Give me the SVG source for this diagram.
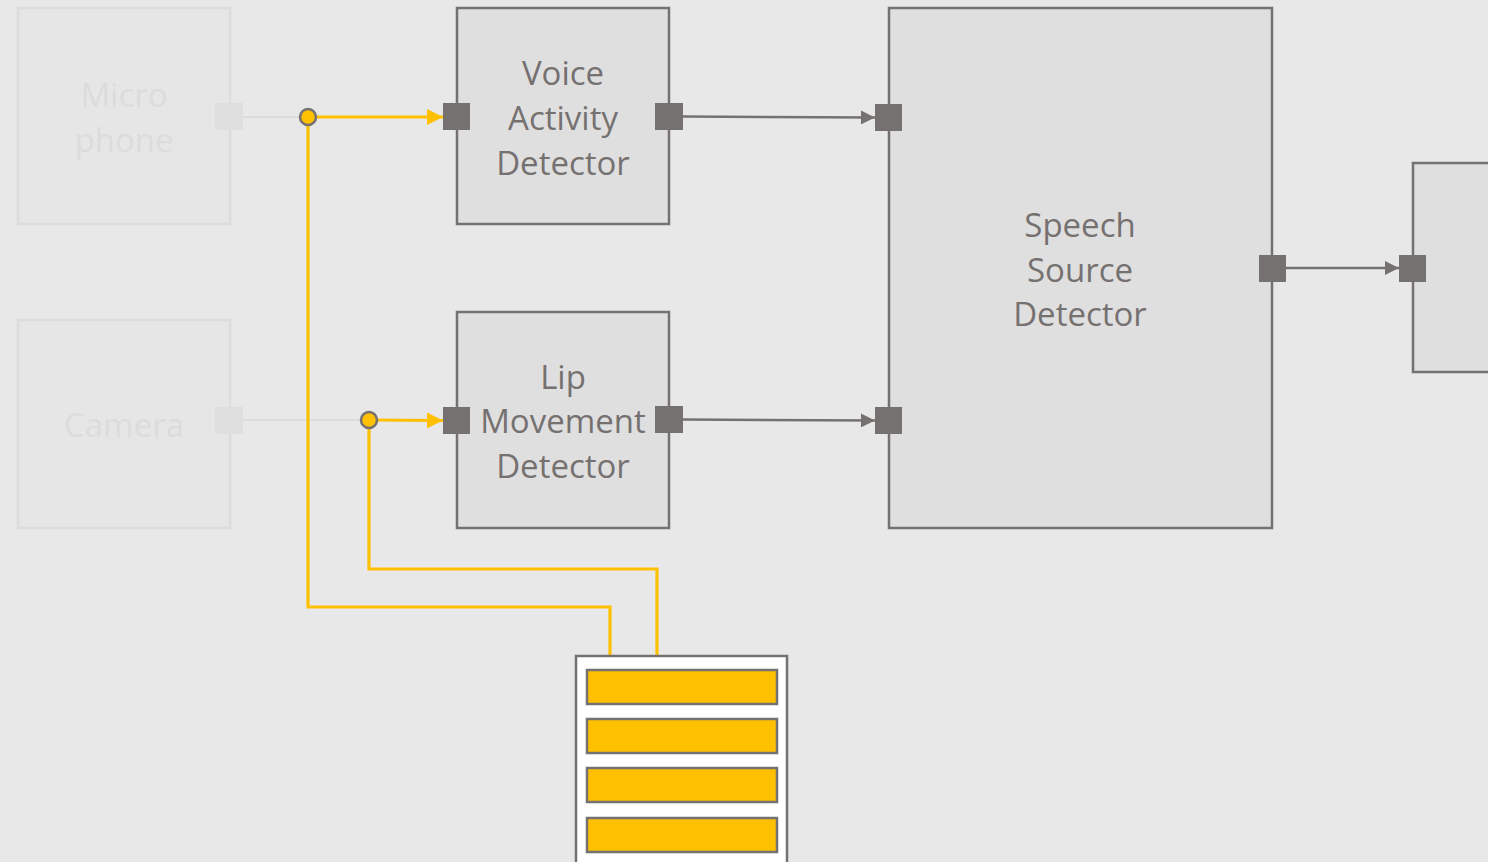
<svg xmlns="http://www.w3.org/2000/svg" width="1488" height="862" viewBox="0 0 1488 862">
  <defs>
    <style>
      .faded { fill: #e6e6e6; stroke: #dcdcdc; stroke-width: 2.5; }
      .faded-port { fill: #dedede; }
      .faded-line { stroke: #dcdcdc; stroke-width: 2; fill: none; }
      .faded-text { fill: #dcdcdc; font-family: "Open Sans", "Noto Sans", sans-serif; font-size: 33px; text-anchor: middle; }
      .block { fill: #dfdfdf; stroke: #767171; stroke-width: 2.5; }
      .port { fill: #767171; }
      .label { fill: #767171; font-family: "Open Sans", "Noto Sans", sans-serif; font-size: 33px; text-anchor: middle; }
      .link { stroke: #767171; stroke-width: 2.5; fill: none; }
      .feed { stroke: #ffc000; stroke-width: 3.2; fill: none; }
      .junction { fill: #ffc000; stroke: #767171; stroke-width: 2.5; }
      .store { fill: #ffffff; stroke: #767171; stroke-width: 2.5; }
      .slot { fill: #ffc000; stroke: #767171; stroke-width: 2.5; }
    </style>
    <marker id="arrow-gray" viewBox="0 0 10 10" refX="10" refY="5" markerWidth="16" markerHeight="14" markerUnits="userSpaceOnUse" orient="auto">
      <path d="M0,0 L10,5 L0,10 Z" fill="#767171"/>
    </marker>
    <marker id="arrow-yellow" viewBox="0 0 10 10" refX="10" refY="5" markerWidth="16" markerHeight="16" markerUnits="userSpaceOnUse" orient="auto">
      <path d="M0,0 L10,5 L0,10 Z" fill="#ffc000"/>
    </marker>
  </defs>

  <rect width="1488" height="862" fill="#e8e8e8"/>

  <!-- sensors (inactive) -->
  <g id="microphone">
    <rect class="faded" x="18" y="8" width="212" height="216"/>
    <text class="faded-text" x="124" y="107">Micro</text>
    <text class="faded-text" x="124" y="152">phone</text>
    <rect class="faded-port" x="215" y="103" width="28" height="27"/>
  </g>
  <g id="camera">
    <rect class="faded" x="18" y="320" width="212" height="208"/>
    <text class="faded-text" x="124" y="437">Camera</text>
    <rect class="faded-port" x="215" y="407" width="28" height="27"/>
  </g>

  <!-- connectors -->
  <g id="connectors">
    <line class="faded-line" x1="243" y1="117" x2="308" y2="117"/>
    <line class="faded-line" x1="243" y1="420" x2="369" y2="420"/>

    <polyline class="feed" points="308,117 308,607 610,607 610,656"/>
    <polyline class="feed" points="369,420 369,569 657,569 657,656"/>
    <line class="feed" x1="308" y1="117" x2="443" y2="117" marker-end="url(#arrow-yellow)"/>
    <line class="feed" x1="369" y1="420" x2="443" y2="420.5" marker-end="url(#arrow-yellow)"/>

    <line class="link" x1="683" y1="116.5" x2="875" y2="117.5" marker-end="url(#arrow-gray)"/>
    <line class="link" x1="683" y1="419.5" x2="875" y2="420.5" marker-end="url(#arrow-gray)"/>
    <line class="link" x1="1286" y1="268" x2="1399" y2="268" marker-end="url(#arrow-gray)"/>

    <circle class="junction" cx="308" cy="117" r="8"/>
    <circle class="junction" cx="369" cy="420" r="8"/>
  </g>

  <g id="voice-activity-detector">
    <rect class="block" x="457" y="8" width="212" height="216"/>
    <text class="label" x="563" y="85">Voice</text>
    <text class="label" x="563" y="130">Activity</text>
    <text class="label" x="563" y="175">Detector</text>
    <rect class="port" x="443" y="103" width="27" height="27"/>
    <rect class="port" x="655" y="103" width="28" height="27"/>
  </g>

  <g id="lip-movement-detector">
    <rect class="block" x="457" y="312" width="212" height="216"/>
    <text class="label" x="563" y="389">Lip</text>
    <text class="label" x="563" y="433">Movement</text>
    <text class="label" x="563" y="478">Detector</text>
    <rect class="port" x="443" y="407" width="27" height="27"/>
    <rect class="port" x="655" y="406" width="28" height="27"/>
  </g>

  <g id="speech-source-detector">
    <rect class="block" x="889" y="8" width="383" height="520"/>
    <text class="label" x="1080" y="237">Speech</text>
    <text class="label" x="1080" y="282">Source</text>
    <text class="label" x="1080" y="326">Detector</text>
    <rect class="port" x="875" y="104" width="27" height="27"/>
    <rect class="port" x="875" y="407" width="27" height="27"/>
    <rect class="port" x="1259" y="255" width="27" height="27"/>
  </g>

  <g id="next-stage">
    <rect class="block" x="1413" y="163" width="90" height="209"/>
    <rect class="port" x="1399" y="255" width="27" height="27"/>
  </g>

  <g id="buffer">
    <rect class="store" x="576" y="656" width="211" height="220"/>
    <rect class="slot" x="587" y="670" width="190" height="34"/>
    <rect class="slot" x="587" y="719" width="190" height="34"/>
    <rect class="slot" x="587" y="768" width="190" height="34"/>
    <rect class="slot" x="587" y="818" width="190" height="34"/>
  </g>
</svg>
